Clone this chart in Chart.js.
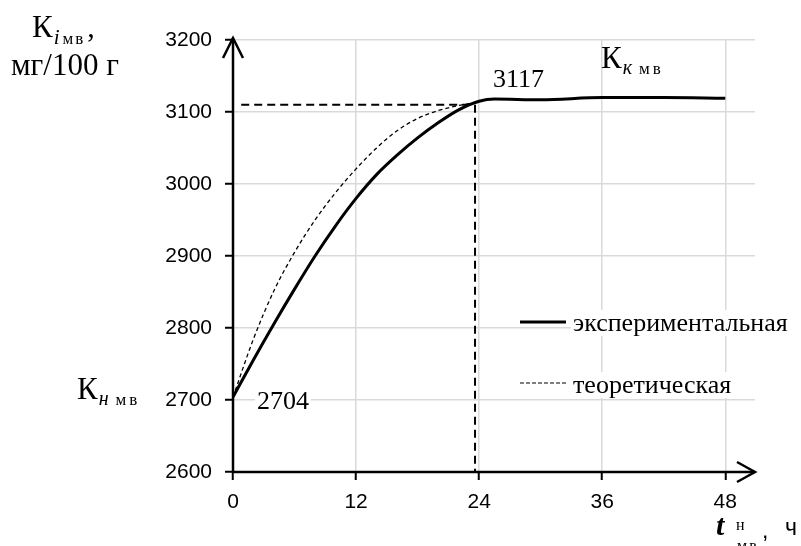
<!DOCTYPE html>
<html>
<head>
<meta charset="utf-8">
<script src="https://cdn.jsdelivr.net/npm/chart.js@4.4.0/dist/chart.umd.min.js"></script>
<style>
  html, body { margin: 0; padding: 0; background: #fff; }
  #wrap { width: 801px; height: 546px; }
</style>
</head>
<body>
<div id="wrap"><canvas id="chart" width="801" height="546"></canvas></div>
<script>
// данные графика
const xTicks = [0, 12, 24, 36, 48];

const expX = [0, 2, 4, 6, 8, 10, 12, 14, 16, 18, 20, 22, 24, 25.5, 30, 36, 42, 48];
const expY = [2704, 2756, 2806, 2854, 2900, 2942, 2980, 3013, 3040, 3064, 3085, 3103, 3115, 3118, 3117, 3120, 3120, 3119];

const theorX = [0, 2, 4, 6, 8, 10, 12, 14, 16, 18, 20, 22, 23.5];
const theorY = [2704, 2785, 2852, 2905, 2950, 2988, 3021, 3050, 3074, 3091, 3102, 3109, 3113];

// пунктирные линии уровня 3110 и времени 23.6 ч
const refHX = [0.8, 23.3];
const refHY = [3110, 3110];
const refVX = [23.6, 23.6];
const refVY = [3110, 2600];

const toPts = (xs, ys) => xs.map((x, i) => ({ x: x, y: ys[i] }));

const SERIF = '"Liberation Serif", "Times New Roman", serif';
const SANS = '"Liberation Sans", Arial, sans-serif';

// рисуем кусочки подписи подряд
function drawParts(ctx, x, parts) {
    let cx = x;
    parts.forEach(p => {
        ctx.font = p.font;
        ctx.letterSpacing = p.ls || '0px';
        cx += (p.dx || 0);
        ctx.fillText(p.t, cx, p.y);
        cx += ctx.measureText(p.t).width;
    });
    ctx.letterSpacing = '0px';
}

function textBox(ctx, text, x, y, font, h) {
    ctx.font = font;
    const w = ctx.measureText(text).width;
    ctx.fillStyle = '#fff';
    ctx.fillRect(x - 2, y - h + 5, w + 4, h);
    ctx.fillStyle = '#000';
    ctx.fillText(text, x, y);
}

const decorPlugin = {
    id: 'decor',
    afterDraw(chart) {
        const ctx = chart.ctx;
        const xs = chart.scales.x, ys = chart.scales.y;
        const x0 = xs.getPixelForValue(0);
        const yB = ys.getPixelForValue(2600);
        const yT = ys.getPixelForValue(3200);
        const xR = chart.chartArea.right;

        ctx.save();
        ctx.strokeStyle = '#000';
        ctx.lineWidth = 2.5;
        ctx.lineCap = 'butt';
        // оси
        ctx.beginPath();
        ctx.moveTo(x0, yB + 1);
        ctx.lineTo(x0, yT - 2);
        ctx.moveTo(x0 - 1, yB);
        ctx.lineTo(xR, yB);
        ctx.stroke();
        // стрелки
        ctx.lineJoin = 'miter';
        ctx.beginPath();
        ctx.moveTo(x0 - 10, yT + 18);
        ctx.lineTo(x0, yT - 2);
        ctx.lineTo(x0 + 10, yT + 18);
        ctx.moveTo(xR - 18, yB - 10);
        ctx.lineTo(xR, yB);
        ctx.lineTo(xR - 18, yB + 10);
        ctx.stroke();

        // легенда
        ctx.lineWidth = 3;
        ctx.beginPath();
        ctx.moveTo(520, 322);
        ctx.lineTo(566, 322);
        ctx.stroke();
        ctx.lineWidth = 1.2;
        ctx.setLineDash([4, 2]);
        ctx.beginPath();
        ctx.moveTo(520, 383);
        ctx.lineTo(566, 383);
        ctx.stroke();
        ctx.setLineDash([]);

        ctx.fillStyle = '#000';
        ctx.textBaseline = 'alphabetic';
        ctx.textAlign = 'left';
        textBox(ctx, 'экспериментальная', 573, 331, '26px ' + SERIF, 26);
        textBox(ctx, 'теоретическая', 573, 393, '26px ' + SERIF, 26);
        textBox(ctx, '2704', 257, 409, '26px ' + SERIF, 24);

        ctx.font = '26px ' + SERIF;
        ctx.fillText('3117', 493, 87);

        // К i мв
        drawParts(ctx, 32, [
            { t: 'К', font: '31px ' + SERIF, y: 37 },
            { t: 'i', font: 'italic 21px ' + SERIF, y: 44, dx: 1 },
            { t: 'мв', font: '17px ' + SERIF, y: 44, dx: 3, ls: '2px' },
            { t: ',', font: '30px ' + SERIF, y: 37, dx: 2 }
        ]);
        ctx.font = '31px ' + SERIF;
        ctx.fillText('мг/100 г', 11, 75);

        // К н мв
        drawParts(ctx, 77, [
            { t: 'К', font: '31px ' + SERIF, y: 399 },
            { t: 'н', font: 'italic 20px ' + SERIF, y: 405, dx: 1 },
            { t: 'мв', font: '17px ' + SERIF, y: 405, dx: 7, ls: '3px' }
        ]);
        // К к мв
        drawParts(ctx, 601, [
            { t: 'К', font: '31px ' + SERIF, y: 68 },
            { t: 'к', font: 'italic 20px ' + SERIF, y: 74, dx: 1 },
            { t: 'мв', font: '17px ' + SERIF, y: 74, dx: 7, ls: '3px' }
        ]);

        // t н мв , ч
        ctx.font = 'bold italic 30px ' + SERIF;
        ctx.fillText('t', 716, 535);
        ctx.font = '16px ' + SERIF;
        ctx.letterSpacing = '2px';
        ctx.fillText('н', 736, 530);
        ctx.fillText('мв', 737, 551);
        ctx.letterSpacing = '0px';
        ctx.font = '23px ' + SANS;
        ctx.fillText(',', 762, 538);
        ctx.fillText('ч', 785, 535);
        ctx.restore();
    }
};

new Chart(document.getElementById('chart'), {
    type: 'scatter',
    data: {
        datasets: [
            {
                label: 'ref-h',
                data: toPts(refHX, refHY),
                showLine: true,
                borderColor: '#000',
                borderWidth: 2,
                borderDash: [8, 5],
                pointRadius: 0
            },
            {
                label: 'ref-v',
                data: toPts(refVX, refVY),
                showLine: true,
                borderColor: '#000',
                borderWidth: 2,
                borderDash: [8, 5],
                pointRadius: 0
            },
            {
                label: 'теоретическая',
                data: toPts(theorX, theorY),
                showLine: true,
                borderColor: '#000',
                borderWidth: 1.3,
                borderDash: [4, 3],
                cubicInterpolationMode: 'monotone',
                pointRadius: 0
            },
            {
                label: 'экспериментальная',
                data: toPts(expX, expY),
                showLine: true,
                borderColor: '#000',
                borderWidth: 3,
                cubicInterpolationMode: 'monotone',
                pointRadius: 0
            }
        ]
    },
    options: {
        responsive: false,
        animation: false,
        events: [],
        layout: { padding: { top: 40, right: 46, left: 0, bottom: 0 } },
        plugins: {
            legend: { display: false },
            tooltip: { enabled: false }
        },
        scales: {
            x: {
                type: 'linear',
                min: 0,
                max: 50.9,
                afterBuildTicks: s => { s.ticks = xTicks.map(v => ({ value: v })); },
                afterFit: s => { s.height = 74; },
                border: { display: false },
                grid: {
                    color: '#d9d9d9',
                    lineWidth: 1.5,
                    tickLength: 8,
                    tickColor: '#000',
                    tickWidth: 2
                },
                ticks: {
                    color: '#000',
                    font: { family: SANS, size: 21 },
                    padding: 10,
                    maxRotation: 0,
                    callback: v => String(v)
                }
            },
            y: {
                min: 2600,
                max: 3200,
                afterFit: s => { s.width = 233; },
                border: { display: false },
                grid: {
                    color: '#d9d9d9',
                    lineWidth: 1.5,
                    tickLength: 8,
                    tickColor: '#000',
                    tickWidth: 2
                },
                ticks: {
                    stepSize: 100,
                    color: '#000',
                    font: { family: SANS, size: 21 },
                    padding: 13,
                    callback: v => String(v)
                }
            }
        }
    },
    plugins: [decorPlugin]
});
</script>
</body>
</html>
